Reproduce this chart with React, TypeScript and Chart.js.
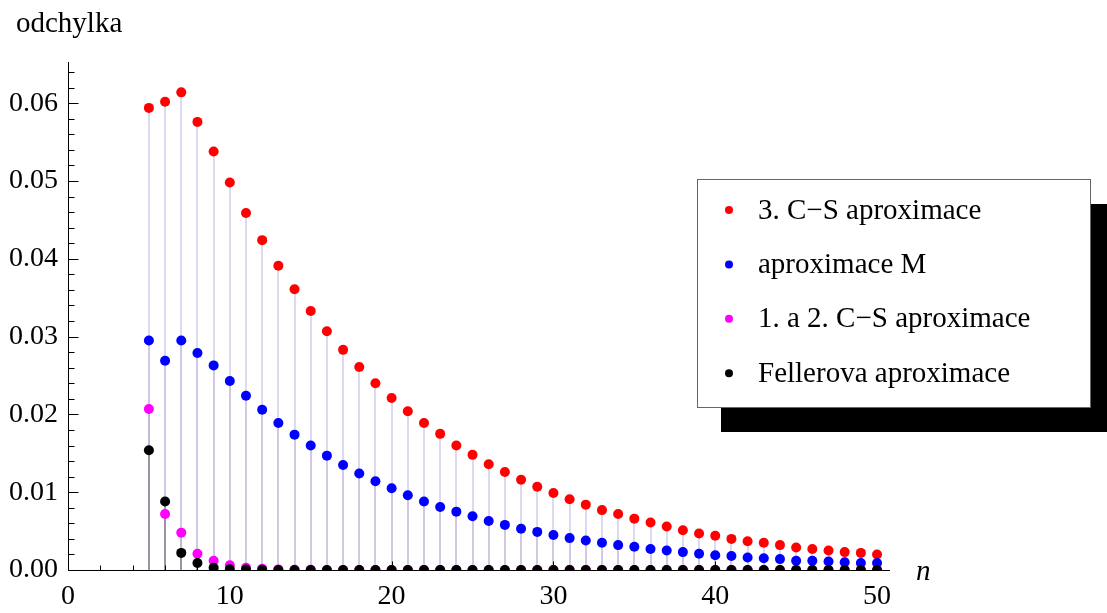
import { useEffect, useRef } from 'react';
import { Chart, registerables } from 'chart.js';

Chart.register(...registerables);

// ---- data ----
const nValues = [5, 6, 7, 8, 9, 10, 11, 12, 13, 14, 15, 16, 17, 18, 19, 20, 21, 22, 23, 24, 25, 26, 27, 28, 29, 30, 31, 32, 33, 34, 35, 36, 37, 38, 39, 40, 41, 42, 43, 44, 45, 46, 47, 48, 49, 50];

const cs3Values = [0.0594, 0.0602, 0.0614, 0.0576, 0.0538, 0.0498, 0.0459, 0.0424, 0.0391, 0.0361, 0.0333, 0.0307, 0.0283, 0.0261, 0.024, 0.0221, 0.0204, 0.0189, 0.0175, 0.016, 0.0148, 0.0136, 0.0126, 0.0116, 0.0107, 0.0099, 0.0091, 0.0084, 0.0077, 0.0072, 0.0066, 0.0061, 0.0056, 0.0051, 0.0047, 0.0044, 0.004, 0.0037, 0.0035, 0.0032, 0.0029, 0.0027, 0.0025, 0.0023, 0.0022, 0.002];

const mValues = [0.0295, 0.0269, 0.0295, 0.0279, 0.0263, 0.0243, 0.0224, 0.0206, 0.0189, 0.0174, 0.016, 0.0147, 0.0135, 0.0124, 0.0114, 0.0105, 0.0096, 0.0088, 0.0081, 0.0075, 0.0069, 0.0063, 0.0058, 0.0053, 0.0049, 0.0045, 0.0041, 0.0038, 0.0035, 0.0032, 0.003, 0.0027, 0.0025, 0.0023, 0.0021, 0.0019, 0.0018, 0.0016, 0.0015, 0.0014, 0.0012, 0.0012, 0.0011, 0.001, 0.0009, 0.0009];

const cs12Values = [0.0207, 0.0072, 0.0048, 0.0021, 0.0012, 0.0006, 0.0003, 0.00015, 0.00008, 0.00004, 0.00002, 0.00001, 0.00001, 0, 0, 0, 0, 0, 0, 0, 0, 0, 0, 0, 0, 0, 0, 0, 0, 0, 0, 0, 0, 0, 0, 0, 0, 0, 0, 0, 0, 0, 0, 0, 0, 0];

const fellerValues = [0.0154, 0.0088, 0.0022, 0.0009, 0.0003, 0.0001, 0.00005, 0.00002, 0.00001, 0, 0, 0, 0, 0, 0, 0, 0, 0, 0, 0, 0, 0, 0, 0, 0, 0, 0, 0, 0, 0, 0, 0, 0, 0, 0, 0, 0, 0, 0, 0, 0, 0, 0, 0, 0, 0];

const seriesLabels = ['3. C\u2212S aproximace', 'aproximace M', '1. a 2. C\u2212S aproximace', 'Fellerova aproximace'];
const seriesValues = [cs3Values, mValues, cs12Values, fellerValues];
const seriesColors = ['#ff0000', '#0000ff', '#ff00ff', '#000000'];
const stemColors = ['rgba(120,110,200,0.26)', 'rgba(150,70,130,0.12)', 'rgba(120,90,120,0.15)', 'rgba(60,60,60,0.3)'];

const xMajorTicks = [0, 10, 20, 30, 40, 50];
const yMajorTicks = [0, 0.01, 0.02, 0.03, 0.04, 0.05, 0.06];
const yTickLabels = ['0.00', '0.01', '0.02', '0.03', '0.04', '0.05', '0.06'];
const xMinorStep = 2;
const yMinorStep = 0.002;
const xMax = 50.8;
const yMax = 0.0653;
const yAxisTitle = 'odchylka';
const xAxisTitle = 'n';

const FONT = '"Liberation Serif", "Times New Roman", serif';
const FS = 28;
const FS_TEXT = 29;

const decorPlugin = {
  id: 'decor',
  beforeDatasetsDraw(chart: any) {
    const { ctx, chartArea, scales } = chart;
    const xs = scales.x;
    const ys = scales.y;
    const { left, right, top, bottom } = chartArea;
    ctx.save();
    // stems (filling to axis)
    ctx.lineWidth = 2;
    chart.data.datasets.forEach((ds: any, i: number) => {
      ctx.strokeStyle = stemColors[i];
      const y0 = ys.getPixelForValue(0);
      ds.data.forEach((p: any) => {
        const px = Math.round(xs.getPixelForValue(p.x));
        const py = ys.getPixelForValue(p.y);
        ctx.beginPath();
        ctx.moveTo(px, py);
        ctx.lineTo(px, y0);
        ctx.stroke();
      });
    });
    // axes
    ctx.strokeStyle = '#000';
    ctx.lineWidth = 1;
    const yZero = Math.round(ys.getPixelForValue(0)) + 0.5;
    const xZero = Math.round(xs.getPixelForValue(0)) + 0.5;
    ctx.beginPath();
    ctx.moveTo(left, yZero);
    ctx.lineTo(right, yZero);
    ctx.moveTo(xZero, top);
    ctx.lineTo(xZero, bottom);
    ctx.stroke();
    // x ticks (inward)
    ctx.beginPath();
    for (let v = 0; v <= 50 + 1e-9; v += xMinorStep) {
      const major = xMajorTicks.some((m) => Math.abs(m - v) < 1e-9);
      if (v === 0) continue;
      const px = Math.round(xs.getPixelForValue(v)) + 0.5;
      ctx.moveTo(px, yZero);
      ctx.lineTo(px, yZero - (major ? 9 : 5));
    }
    // y ticks (inward)
    for (let k = 1; k * yMinorStep <= yMax; k++) {
      const v = k * yMinorStep;
      const major = k % 5 === 0;
      const py = Math.round(ys.getPixelForValue(v)) + 0.5;
      ctx.moveTo(xZero, py);
      ctx.lineTo(xZero + (major ? 10 : 6), py);
    }
    ctx.stroke();
    ctx.restore();
  },
  afterDraw(chart: any) {
    const { ctx } = chart;
    ctx.save();
    // axis titles
    ctx.fillStyle = '#000';
    ctx.font = `${FS_TEXT}px ${FONT}`;
    ctx.textBaseline = 'alphabetic';
    ctx.textAlign = 'left';
    ctx.fillText(yAxisTitle, 16, 32);
    ctx.font = `italic ${FS_TEXT}px ${FONT}`;
    ctx.fillText(xAxisTitle, 916, 580);

    // legend with shadow
    const bx = 697, by = 179, bw = 393, bh = 228;
    ctx.fillStyle = '#000';
    ctx.fillRect(bx + 24, by + 25, bw + 40, bh);
    ctx.fillStyle = '#fff';
    ctx.fillRect(bx, by, bw, bh);
    ctx.strokeStyle = '#666';
    ctx.lineWidth = 1;
    ctx.strokeRect(bx + 0.5, by + 0.5, bw, bh);
    ctx.font = `${FS_TEXT}px ${FONT}`;
    ctx.textBaseline = 'middle';
    seriesLabels.forEach((lab, i) => {
      const cy = by + 31 + i * 54.4;
      ctx.fillStyle = seriesColors[i];
      ctx.beginPath();
      ctx.arc(bx + 32, cy, 4, 0, Math.PI * 2);
      ctx.fill();
      ctx.fillStyle = '#000';
      ctx.fillText(lab, bx + 61, cy + 1);
    });
    ctx.restore();
  },
};

export default function App() {
  const canvasRef = useRef<HTMLCanvasElement | null>(null);

  useEffect(() => {
    if (!canvasRef.current) return;
    const chart = new Chart(canvasRef.current, {
      type: 'scatter',
      data: {
        datasets: seriesValues.map((vals, i) => ({
          label: seriesLabels[i],
          data: nValues.map((n, j) => ({ x: n, y: vals[j] })),
          backgroundColor: seriesColors[i],
          borderColor: seriesColors[i],
          pointRadius: 5,
          pointBorderWidth: 0,
          pointHoverRadius: 5,
          showLine: false,
          order: 4 - i,
        })),
      },
      options: {
        animation: false,
        responsive: false,
        devicePixelRatio: 1,
        events: [],
        layout: { padding: { left: 0, top: 62, right: 217, bottom: 0 } },
        plugins: {
          legend: { display: false },
          tooltip: { enabled: false },
        },
        scales: {
          x: {
            type: 'linear',
            min: 0,
            max: xMax,
            grid: { display: false, drawTicks: false },
            border: { display: false },
            ticks: {
              color: '#000',
              font: { family: FONT, size: FS },
              padding: 10,
              maxRotation: 0,
              autoSkip: false,
            },
            afterBuildTicks: (s: any) => {
              s.ticks = xMajorTicks.map((v) => ({ value: v }));
            },
            afterFit: (s: any) => {
              s.height = 43;
            },
          },
          y: {
            type: 'linear',
            min: 0,
            max: yMax,
            grid: { display: false, drawTicks: false },
            border: { display: false },
            ticks: {
              color: '#000',
              font: { family: FONT, size: FS },
              padding: 10,
              autoSkip: false,
              callback: (_v: any, idx: number) => yTickLabels[idx],
            },
            afterBuildTicks: (s: any) => {
              s.ticks = yMajorTicks.map((v) => ({ value: v }));
            },
            afterFit: (s: any) => {
              s.width = 68;
            },
          },
        },
      },
      plugins: [decorPlugin],
    } as any);
    return () => chart.destroy();
  }, []);

  return (
    <div style={{ position: 'absolute', left: 0, top: 0, width: 1107, height: 613, background: '#fff' }}>
      <canvas ref={canvasRef} width={1107} height={613} style={{ display: 'block' }} />
    </div>
  );
}
